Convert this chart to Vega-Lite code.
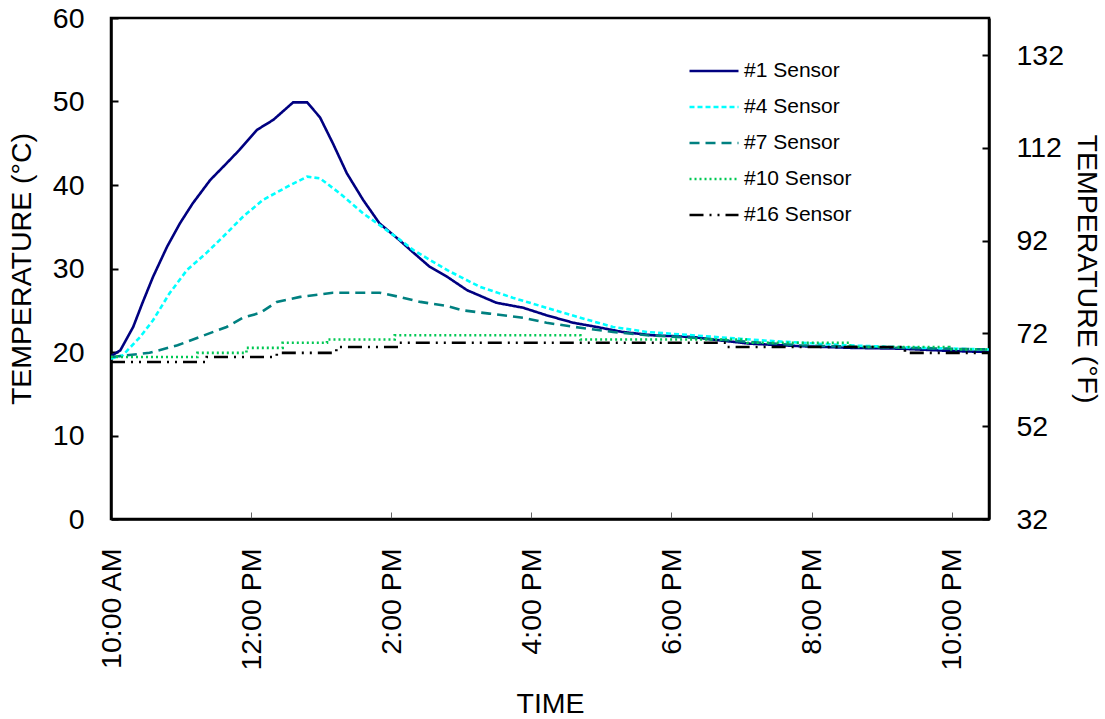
{
  "$schema": "https://vega.github.io/schema/vega-lite/v6.json",
  "autosize": "none",
  "width": 878,
  "height": 501,
  "padding": {"left": 111, "top": 18, "right": 116, "bottom": 200},
  "background": "white",
  "datasets": {
    "smooth": [
      {"sensor": "#1 Sensor", "time": "2020-01-01T10:00", "temp": 19.5},
      {"sensor": "#1 Sensor", "time": "2020-01-01T10:08", "temp": 20.2},
      {"sensor": "#1 Sensor", "time": "2020-01-01T10:19", "temp": 23.0},
      {"sensor": "#1 Sensor", "time": "2020-01-01T10:27", "temp": 25.9},
      {"sensor": "#1 Sensor", "time": "2020-01-01T10:36", "temp": 29.0},
      {"sensor": "#1 Sensor", "time": "2020-01-01T10:48", "temp": 32.6},
      {"sensor": "#1 Sensor", "time": "2020-01-01T10:59", "temp": 35.4},
      {"sensor": "#1 Sensor", "time": "2020-01-01T11:10", "temp": 37.8},
      {"sensor": "#1 Sensor", "time": "2020-01-01T11:25", "temp": 40.6},
      {"sensor": "#1 Sensor", "time": "2020-01-01T11:39", "temp": 42.6},
      {"sensor": "#1 Sensor", "time": "2020-01-01T11:50", "temp": 44.2},
      {"sensor": "#1 Sensor", "time": "2020-01-01T12:05", "temp": 46.6},
      {"sensor": "#1 Sensor", "time": "2020-01-01T12:19", "temp": 47.8},
      {"sensor": "#1 Sensor", "time": "2020-01-01T12:36", "temp": 49.9},
      {"sensor": "#1 Sensor", "time": "2020-01-01T12:48", "temp": 49.9},
      {"sensor": "#1 Sensor", "time": "2020-01-01T12:59", "temp": 48.1},
      {"sensor": "#1 Sensor", "time": "2020-01-01T13:10", "temp": 45.0},
      {"sensor": "#1 Sensor", "time": "2020-01-01T13:22", "temp": 41.4},
      {"sensor": "#1 Sensor", "time": "2020-01-01T13:36", "temp": 38.2},
      {"sensor": "#1 Sensor", "time": "2020-01-01T13:50", "temp": 35.4},
      {"sensor": "#1 Sensor", "time": "2020-01-01T14:07", "temp": 33.4},
      {"sensor": "#1 Sensor", "time": "2020-01-01T14:19", "temp": 31.9},
      {"sensor": "#1 Sensor", "time": "2020-01-01T14:33", "temp": 30.2},
      {"sensor": "#1 Sensor", "time": "2020-01-01T14:48", "temp": 29.0},
      {"sensor": "#1 Sensor", "time": "2020-01-01T15:05", "temp": 27.4},
      {"sensor": "#1 Sensor", "time": "2020-01-01T15:30", "temp": 25.9},
      {"sensor": "#1 Sensor", "time": "2020-01-01T15:53", "temp": 25.3},
      {"sensor": "#1 Sensor", "time": "2020-01-01T16:13", "temp": 24.4},
      {"sensor": "#1 Sensor", "time": "2020-01-01T16:36", "temp": 23.5},
      {"sensor": "#1 Sensor", "time": "2020-01-01T16:56", "temp": 23.0},
      {"sensor": "#1 Sensor", "time": "2020-01-01T17:18", "temp": 22.4},
      {"sensor": "#1 Sensor", "time": "2020-01-01T17:44", "temp": 22.0},
      {"sensor": "#1 Sensor", "time": "2020-01-01T18:18", "temp": 21.8},
      {"sensor": "#1 Sensor", "time": "2020-01-01T18:41", "temp": 21.4},
      {"sensor": "#1 Sensor", "time": "2020-01-01T19:07", "temp": 21.0},
      {"sensor": "#1 Sensor", "time": "2020-01-01T19:50", "temp": 20.7},
      {"sensor": "#1 Sensor", "time": "2020-01-01T20:33", "temp": 20.5},
      {"sensor": "#1 Sensor", "time": "2020-01-01T21:16", "temp": 20.4},
      {"sensor": "#1 Sensor", "time": "2020-01-01T22:03", "temp": 20.1},
      {"sensor": "#1 Sensor", "time": "2020-01-01T22:32", "temp": 20.0},
      {"sensor": "#4 Sensor", "time": "2020-01-01T10:00", "temp": 19.2},
      {"sensor": "#4 Sensor", "time": "2020-01-01T10:10", "temp": 19.6},
      {"sensor": "#4 Sensor", "time": "2020-01-01T10:25", "temp": 21.8},
      {"sensor": "#4 Sensor", "time": "2020-01-01T10:36", "temp": 23.8},
      {"sensor": "#4 Sensor", "time": "2020-01-01T10:50", "temp": 27.0},
      {"sensor": "#4 Sensor", "time": "2020-01-01T11:05", "temp": 29.8},
      {"sensor": "#4 Sensor", "time": "2020-01-01T11:22", "temp": 31.9},
      {"sensor": "#4 Sensor", "time": "2020-01-01T11:36", "temp": 33.8},
      {"sensor": "#4 Sensor", "time": "2020-01-01T11:53", "temp": 36.2},
      {"sensor": "#4 Sensor", "time": "2020-01-01T12:10", "temp": 38.2},
      {"sensor": "#4 Sensor", "time": "2020-01-01T12:31", "temp": 39.8},
      {"sensor": "#4 Sensor", "time": "2020-01-01T12:48", "temp": 41.0},
      {"sensor": "#4 Sensor", "time": "2020-01-01T12:59", "temp": 40.8},
      {"sensor": "#4 Sensor", "time": "2020-01-01T13:16", "temp": 39.0},
      {"sensor": "#4 Sensor", "time": "2020-01-01T13:36", "temp": 36.6},
      {"sensor": "#4 Sensor", "time": "2020-01-01T13:56", "temp": 34.6},
      {"sensor": "#4 Sensor", "time": "2020-01-01T14:07", "temp": 33.5},
      {"sensor": "#4 Sensor", "time": "2020-01-01T14:19", "temp": 32.2},
      {"sensor": "#4 Sensor", "time": "2020-01-01T14:48", "temp": 29.8},
      {"sensor": "#4 Sensor", "time": "2020-01-01T15:16", "temp": 27.8},
      {"sensor": "#4 Sensor", "time": "2020-01-01T15:44", "temp": 26.5},
      {"sensor": "#4 Sensor", "time": "2020-01-01T16:13", "temp": 25.3},
      {"sensor": "#4 Sensor", "time": "2020-01-01T16:42", "temp": 24.1},
      {"sensor": "#4 Sensor", "time": "2020-01-01T17:10", "temp": 23.0},
      {"sensor": "#4 Sensor", "time": "2020-01-01T17:39", "temp": 22.4},
      {"sensor": "#4 Sensor", "time": "2020-01-01T18:18", "temp": 22.0},
      {"sensor": "#4 Sensor", "time": "2020-01-01T19:27", "temp": 21.3},
      {"sensor": "#4 Sensor", "time": "2020-01-01T20:30", "temp": 20.8},
      {"sensor": "#4 Sensor", "time": "2020-01-01T21:33", "temp": 20.5},
      {"sensor": "#4 Sensor", "time": "2020-01-01T22:32", "temp": 20.3},
      {"sensor": "#7 Sensor", "time": "2020-01-01T10:00", "temp": 19.4},
      {"sensor": "#7 Sensor", "time": "2020-01-01T10:33", "temp": 19.9},
      {"sensor": "#7 Sensor", "time": "2020-01-01T10:57", "temp": 20.8},
      {"sensor": "#7 Sensor", "time": "2020-01-01T11:16", "temp": 21.8},
      {"sensor": "#7 Sensor", "time": "2020-01-01T11:39", "temp": 23.0},
      {"sensor": "#7 Sensor", "time": "2020-01-01T11:53", "temp": 24.1},
      {"sensor": "#7 Sensor", "time": "2020-01-01T12:08", "temp": 24.7},
      {"sensor": "#7 Sensor", "time": "2020-01-01T12:22", "temp": 26.0},
      {"sensor": "#7 Sensor", "time": "2020-01-01T12:42", "temp": 26.6},
      {"sensor": "#7 Sensor", "time": "2020-01-01T13:10", "temp": 27.1},
      {"sensor": "#7 Sensor", "time": "2020-01-01T13:50", "temp": 27.1},
      {"sensor": "#7 Sensor", "time": "2020-01-01T14:07", "temp": 26.6},
      {"sensor": "#7 Sensor", "time": "2020-01-01T14:25", "temp": 26.0},
      {"sensor": "#7 Sensor", "time": "2020-01-01T14:48", "temp": 25.5},
      {"sensor": "#7 Sensor", "time": "2020-01-01T15:01", "temp": 25.0},
      {"sensor": "#7 Sensor", "time": "2020-01-01T15:24", "temp": 24.6},
      {"sensor": "#7 Sensor", "time": "2020-01-01T15:53", "temp": 24.1},
      {"sensor": "#7 Sensor", "time": "2020-01-01T16:13", "temp": 23.5},
      {"sensor": "#7 Sensor", "time": "2020-01-01T16:42", "temp": 22.9},
      {"sensor": "#7 Sensor", "time": "2020-01-01T17:10", "temp": 22.4},
      {"sensor": "#7 Sensor", "time": "2020-01-01T17:39", "temp": 22.0},
      {"sensor": "#7 Sensor", "time": "2020-01-01T18:18", "temp": 21.7},
      {"sensor": "#7 Sensor", "time": "2020-01-01T19:07", "temp": 21.2},
      {"sensor": "#7 Sensor", "time": "2020-01-01T19:50", "temp": 20.8},
      {"sensor": "#7 Sensor", "time": "2020-01-01T21:16", "temp": 20.5},
      {"sensor": "#7 Sensor", "time": "2020-01-01T22:32", "temp": 20.3}
    ],
    "stepped": [
      {"sensor": "#10 Sensor", "time": "2020-01-01T10:00", "temp": 19.4},
      {"sensor": "#10 Sensor", "time": "2020-01-01T11:14", "temp": 19.9},
      {"sensor": "#10 Sensor", "time": "2020-01-01T11:56", "temp": 20.5},
      {"sensor": "#10 Sensor", "time": "2020-01-01T12:27", "temp": 21.1},
      {"sensor": "#10 Sensor", "time": "2020-01-01T13:05", "temp": 21.5},
      {"sensor": "#10 Sensor", "time": "2020-01-01T14:03", "temp": 22.0},
      {"sensor": "#10 Sensor", "time": "2020-01-01T16:42", "temp": 21.5},
      {"sensor": "#10 Sensor", "time": "2020-01-01T19:05", "temp": 21.1},
      {"sensor": "#10 Sensor", "time": "2020-01-01T20:33", "temp": 20.6},
      {"sensor": "#10 Sensor", "time": "2020-01-01T21:58", "temp": 20.3},
      {"sensor": "#10 Sensor", "time": "2020-01-01T22:32", "temp": 20.3},
      {"sensor": "#16 Sensor", "time": "2020-01-01T10:00", "temp": 18.8},
      {"sensor": "#16 Sensor", "time": "2020-01-01T11:22", "temp": 19.4},
      {"sensor": "#16 Sensor", "time": "2020-01-01T12:22", "temp": 19.9},
      {"sensor": "#16 Sensor", "time": "2020-01-01T13:13", "temp": 20.6},
      {"sensor": "#16 Sensor", "time": "2020-01-01T14:07", "temp": 21.1},
      {"sensor": "#16 Sensor", "time": "2020-01-01T18:47", "temp": 20.6},
      {"sensor": "#16 Sensor", "time": "2020-01-01T21:20", "temp": 19.9},
      {"sensor": "#16 Sensor", "time": "2020-01-01T22:32", "temp": 19.9}
    ],
    "fahrenheit": [
      {"f": 32}
    ]
  },
  "layer": [
    {
      "layer": [
        {
          "data": {"name": "smooth"},
          "mark": {"type": "line", "strokeWidth": 2.6, "clip": true},
          "encoding": {
            "x": {"field": "time", "type": "temporal"},
            "y": {"field": "temp", "type": "quantitative"},
            "color": {"field": "sensor", "type": "nominal"},
            "strokeDash": {"field": "sensor", "type": "nominal"}
          }
        },
        {
          "data": {"name": "stepped"},
          "mark": {"type": "line", "strokeWidth": 2.6, "interpolate": "step-after", "clip": true},
          "encoding": {
            "x": {"field": "time", "type": "temporal"},
            "y": {"field": "temp", "type": "quantitative"},
            "color": {"field": "sensor", "type": "nominal"},
            "strokeDash": {"field": "sensor", "type": "nominal"}
          }
        }
      ],
      "encoding": {
        "x": {
          "field": "time", "type": "temporal",
          "scale": {"domain": [{"year": 2020, "month": 1, "date": 1, "hours": 10, "minutes": 0}, {"year": 2020, "month": 1, "date": 1, "hours": 22, "minutes": 32}]},
          "axis": {
            "title": "TIME",
            "values": [
              {"year": 2020, "month": 1, "date": 1, "hours": 10},
              {"year": 2020, "month": 1, "date": 1, "hours": 12},
              {"year": 2020, "month": 1, "date": 1, "hours": 14},
              {"year": 2020, "month": 1, "date": 1, "hours": 16},
              {"year": 2020, "month": 1, "date": 1, "hours": 18},
              {"year": 2020, "month": 1, "date": 1, "hours": 20},
              {"year": 2020, "month": 1, "date": 1, "hours": 22}
            ],
            "format": "%-I:%M %p",
            "labelAngle": -90,
            "labelAlign": "right",
            "labelBaseline": "middle",
            "tickSize": -7,
            "tickColor": "#666666",
            "tickWidth": 1,
            "labelPadding": 36,
            "titlePadding": 20
          }
        },
        "y": {
          "field": "temp", "type": "quantitative",
          "scale": {"domain": [0, 60], "nice": false, "zero": false},
          "axis": {
            "title": "TEMPERATURE (°C)",
            "values": [0, 10, 20, 30, 40, 50, 60],
            "tickSize": -7,
            "tickWidth": 2,
            "labelPadding": 34,
            "titlePadding": 16
          }
        },
        "color": {
          "field": "sensor", "type": "nominal",
          "scale": {
            "domain": ["#1 Sensor", "#4 Sensor", "#7 Sensor", "#10 Sensor", "#16 Sensor"],
            "range": ["#000080", "#00FFFF", "#008080", "#00C853", "#000000"]
          },
          "legend": {
            "title": null,
            "orient": "none",
            "legendX": 577,
            "legendY": 27,
            "symbolType": "stroke",
            "symbolSize": 2400,
            "symbolStrokeWidth": 2.6,
            "labelFontSize": 21,
            "labelColor": "black",
            "labelOffset": 4,
            "rowPadding": -14.5
          }
        },
        "strokeDash": {
          "field": "sensor", "type": "nominal",
          "scale": {
            "domain": ["#1 Sensor", "#4 Sensor", "#7 Sensor", "#10 Sensor", "#16 Sensor"],
            "range": [[1, 0], [5, 3], [10, 6], [2, 3], [14, 6, 2, 6, 2, 6]]
          },
          "legend": {
            "title": null,
            "orient": "none",
            "legendX": 577,
            "legendY": 27,
            "symbolType": "stroke",
            "symbolSize": 2400,
            "symbolStrokeWidth": 2.6,
            "labelFontSize": 21,
            "labelColor": "black",
            "labelOffset": 4,
            "rowPadding": -14.5
          }
        }
      }
    },
    {
      "data": {"name": "fahrenheit"},
      "mark": {"type": "rule", "strokeOpacity": 0},
      "encoding": {
        "y": {
          "field": "f", "type": "quantitative",
          "scale": {"domain": [32, 140], "nice": false, "zero": false},
          "axis": {
            "orient": "right",
            "title": "TEMPERATURE (°F)",
            "values": [32, 52, 72, 92, 112, 132],
            "tickSize": -7,
            "tickWidth": 2,
            "labelPadding": 34,
            "titlePadding": 8
          }
        }
      }
    }
  ],
  "resolve": {"scale": {"y": "independent"}, "axis": {"y": "independent"}},
  "config": {
    "font": "Liberation Sans",
    "view": {"stroke": "black", "strokeWidth": 2.5},
    "axis": {
      "grid": false,
      "domainColor": "black",
      "domainWidth": 2.5,
      "tickColor": "black",
      "labelColor": "black",
      "titleColor": "black",
      "labelFontSize": 28.5,
      "titleFontSize": 28.5,
      "titleFontWeight": "normal",
      "labelFont": "Liberation Sans",
      "titleFont": "Liberation Sans"
    },
    "legend": {"labelFont": "Liberation Sans"}
  }
}
